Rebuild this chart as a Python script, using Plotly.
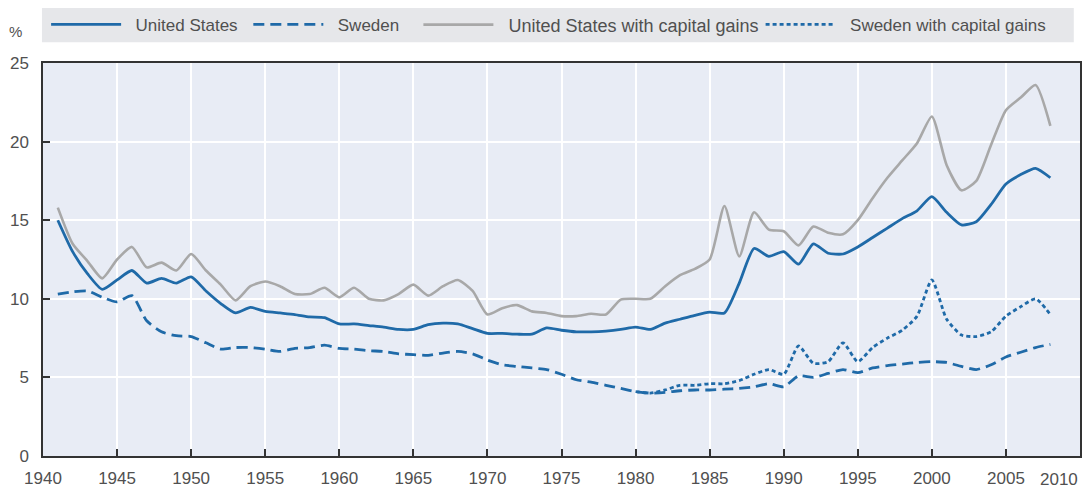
import plotly.graph_objects as go

years = list(range(1941, 2009))

us = [15.0, 13.0, 11.6, 10.6, 11.2, 11.8, 11.0, 11.3, 11.0, 11.4,
      10.5, 9.7, 9.1, 9.45, 9.2, 9.1, 9.0, 8.85, 8.8, 8.4,
      8.4, 8.3, 8.2, 8.05, 8.05, 8.35, 8.45, 8.4, 8.1, 7.8,
      7.8, 7.75, 7.75, 8.15, 8.0, 7.9, 7.9, 7.95, 8.05, 8.2,
      8.05, 8.45, 8.7, 8.95, 9.15, 9.1, 11.0, 13.2, 12.7, 13.0,
      12.2, 13.5, 12.9, 12.85, 13.3, 13.9, 14.5, 15.1, 15.6, 16.5,
      15.5, 14.7, 14.9, 16.0, 17.3, 17.9, 18.3, 17.7]

sweden = [10.3, 10.45, 10.5, 10.1, 9.8, 10.2, 8.6, 7.9, 7.65, 7.6,
          7.2, 6.8, 6.9, 6.9, 6.8, 6.65, 6.85, 6.9, 7.05, 6.85,
          6.8, 6.7, 6.65, 6.5, 6.45, 6.4, 6.55, 6.65, 6.5, 6.1,
          5.8, 5.7, 5.6, 5.5, 5.2, 4.85, 4.7, 4.5, 4.3, 4.1,
          4.0, 4.05, 4.15, 4.2, 4.2, 4.25, 4.3, 4.4, 4.6, 4.4,
          5.1, 5.0, 5.25, 5.5, 5.3, 5.6, 5.75, 5.85, 5.95, 6.0,
          5.95, 5.7, 5.5, 5.8, 6.3, 6.6, 6.9, 7.1]

us_cg = [15.8, 13.5, 12.4, 11.3, 12.5, 13.3, 12.0, 12.3, 11.8, 12.85,
         11.8, 10.9, 9.9, 10.8, 11.1, 10.8, 10.3, 10.3, 10.7, 10.1,
         10.7, 10.0, 9.9, 10.3, 10.9, 10.2, 10.8, 11.2, 10.5, 9.0,
         9.4, 9.6, 9.2, 9.1, 8.9, 8.9, 9.05, 9.0, 9.95, 10.0,
         10.0, 10.8, 11.5, 11.9, 12.5, 15.9, 12.7, 15.5, 14.4, 14.3,
         13.4, 14.6, 14.2, 14.1, 15.0, 16.4, 17.7, 18.8, 19.9, 21.6,
         18.5, 16.9, 17.5, 19.8, 22.0, 22.8, 23.6, 21.0]

years_se_cg = list(range(1980, 2009))
sweden_cg = [4.1, 4.0, 4.2, 4.5, 4.5, 4.6, 4.6, 4.8, 5.2, 5.5,
             5.2, 7.0, 5.9, 6.0, 7.2, 6.0, 6.9, 7.5, 8.0, 8.9,
             11.2, 8.7, 7.7, 7.6, 7.9, 8.9, 9.5, 10.0, 9.0]

x_ticks = list(range(1940, 2011, 5))
x_tick_text = [str(v) for v in x_ticks[:-1]] + [""]
last_x_label = "2010"
y_ticks = list(range(0, 26, 5))

BLUE = "#1f6aa8"
GRAY = "#a8a8a8"
TEXT = "#505050"
FONT = "Liberation Sans, Arial, sans-serif"
FS = 17

NB = "\u00a0\u00a0"
fig = go.Figure()
fig.add_trace(go.Scatter(x=years, y=us, name=NB + "United States", mode="lines", legend="legend",
                         line=dict(color=BLUE, width=2.8, shape="spline", smoothing=0.6)))
fig.add_trace(go.Scatter(x=years, y=sweden, name=NB + "Sweden", mode="lines", legend="legend2",
                         line=dict(color=BLUE, width=2.8, dash="11px,6px", shape="spline", smoothing=0.6)))
fig.add_trace(go.Scatter(x=years, y=us_cg, name=NB + "United States with capital gains", mode="lines",
                         legend="legend3",
                         line=dict(color=GRAY, width=2.6, shape="spline", smoothing=0.6)))
fig.add_trace(go.Scatter(x=years_se_cg, y=sweden_cg, name=NB + "Sweden with capital gains", mode="lines",
                         legend="legend4",
                         line=dict(color=BLUE, width=2.8, dash="4px,3px", shape="spline", smoothing=0.6)))

fig.add_shape(type="rect", xref="paper", yref="paper", x0=-0.001, x1=0.994, y0=1.053, y1=1.140,
              fillcolor="#e6e7ea", line=dict(width=0), layer="below")

fig.add_annotation(text="%", xref="paper", yref="paper", x=-0.027, y=1.079, xanchor="center",
                   yanchor="middle", showarrow=False, font=dict(size=15, color=TEXT, family=FONT))
fig.add_annotation(text=last_x_label, xref="x", yref="paper", x=2010, y=0, xanchor="right",
                   yanchor="top", yshift=-12, xshift=0, showarrow=False,
                   font=dict(size=FS, color=TEXT, family=FONT))


def leg(xp, fs=FS):
    return dict(orientation="h", x=xp, y=1.097, xanchor="left", yanchor="middle",
                bgcolor="rgba(0,0,0,0)", font=dict(size=fs, color=TEXT, family=FONT),
                itemwidth=70)


fig.update_layout(
    width=1083, height=490,
    margin=dict(l=43, r=3, t=63, b=34, autoexpand=False),
    paper_bgcolor="white",
    plot_bgcolor="#e8ecf5",
    font=dict(family=FONT, color=TEXT, size=FS),
    showlegend=True,
    legend=leg(0.003),
    legend2=leg(0.198),
    legend3=leg(0.362, 18),
    legend4=leg(0.692),
    xaxis=dict(range=[1940, 2010], tickvals=x_ticks, ticktext=x_tick_text, ticks="inside", ticklen=7,
               tickcolor="#333", tickwidth=1.5, showgrid=True, gridcolor="white", gridwidth=1.5,
               showline=True, linecolor="#333", linewidth=1.5, mirror=True, zeroline=False,
               ticklabelstandoff=6, tickfont=dict(size=FS, color=TEXT)),
    yaxis=dict(range=[0, 25], tickvals=y_ticks, ticks="inside", ticklen=7, tickcolor="#333",
               tickwidth=1.5, showgrid=True, gridcolor="white", gridwidth=1.5,
               showline=True, linecolor="#333", linewidth=1.5, mirror=True, zeroline=False,
               ticklabelstandoff=9, tickfont=dict(size=FS, color=TEXT)),
)

fig.write_html("out.html", config={"displayModeBar": False},
               post_script="document.body.style.margin='0';document.body.style.overflow='hidden';")
